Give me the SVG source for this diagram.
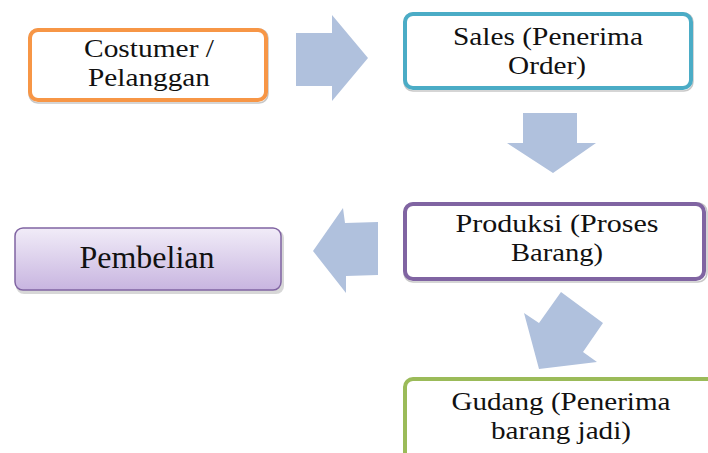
<svg xmlns="http://www.w3.org/2000/svg" width="708" height="453" viewBox="0 0 708 453">
  <defs>
    <linearGradient id="lavender" x1="0" y1="0" x2="0" y2="1">
      <stop offset="0" stop-color="#F1ECF8"/>
      <stop offset="1" stop-color="#C8B5E0"/>
    </linearGradient>
  </defs>
  <style>
    .box { fill: #ffffff; stroke-width: 4; }
    .lbl { font-family: 'Liberation Serif', 'Times New Roman', Times, serif; font-size: 26px; fill: #111111; text-anchor: middle; }
    .arrow { fill: #B0C1DD; stroke: none; }
    .shadow { fill: none; stroke: #c8c8c8; stroke-width: 1.5; }
  </style>

  <!-- connectors: block arrows between the steps -->
  <g id="connectors">
    <polygon class="arrow" points="296,33 332,33 332,15 368,58 332,101 332,86 296,86"/>
    <polygon class="arrow" points="523,113 577,113 577,143 596,143 553,173 507,143 523,143"/>
    <polygon class="arrow" points="378,222 345,223 343,208 313,251 346,293 346,276 378,275"/>
    <polygon class="arrow" points="561,292 603,323 583,352 597,362 539,369 524,313 539,323"/>
  </g>

  <g id="costumer">
    <rect class="shadow" x="29" y="29" width="239" height="74" rx="9"/>
    <rect class="box" x="30" y="30" width="236" height="70" rx="8" stroke="#F79646"/>
    <text class="lbl" x="149" y="57" textLength="130" lengthAdjust="spacingAndGlyphs">Costumer /</text>
    <text class="lbl" x="149" y="86" textLength="122" lengthAdjust="spacingAndGlyphs">Pelanggan</text>
  </g>

  <g id="sales">
    <rect class="shadow" x="404" y="13" width="289" height="78" rx="9"/>
    <rect class="box" x="405" y="14" width="286" height="74" rx="8" stroke="#4BACC6"/>
    <text class="lbl" x="548" y="45" textLength="190" lengthAdjust="spacingAndGlyphs">Sales (Penerima</text>
    <text class="lbl" x="547" y="74" textLength="78" lengthAdjust="spacingAndGlyphs">Order)</text>
  </g>

  <g id="produksi">
    <rect class="shadow" x="404" y="203" width="303" height="79" rx="9"/>
    <rect class="box" x="405" y="204" width="299" height="75" rx="8" stroke="#8064A2"/>
    <text class="lbl" x="557" y="232" textLength="203" lengthAdjust="spacingAndGlyphs">Produksi (Proses</text>
    <text class="lbl" x="557" y="261" textLength="92" lengthAdjust="spacingAndGlyphs">Barang)</text>
  </g>

  <g id="pembelian">
    <rect x="16" y="230" width="268" height="64" rx="8" fill="#bdbdbd" opacity="0.6"/>
    <rect x="15" y="228" width="266" height="62" rx="8" fill="url(#lavender)" stroke="#8064A2" stroke-width="1.5"/>
    <text class="lbl" x="147" y="268" style="font-size:31px" textLength="135" lengthAdjust="spacingAndGlyphs">Pembelian</text>
  </g>

  <g id="gudang">
    <rect class="box" x="405" y="379" width="320" height="110" rx="8" stroke="#9BBB59"/>
    <text class="lbl" x="561" y="410" textLength="219" lengthAdjust="spacingAndGlyphs">Gudang (Penerima</text>
    <text class="lbl" x="561" y="439" textLength="140" lengthAdjust="spacingAndGlyphs">barang jadi)</text>
  </g>
</svg>
